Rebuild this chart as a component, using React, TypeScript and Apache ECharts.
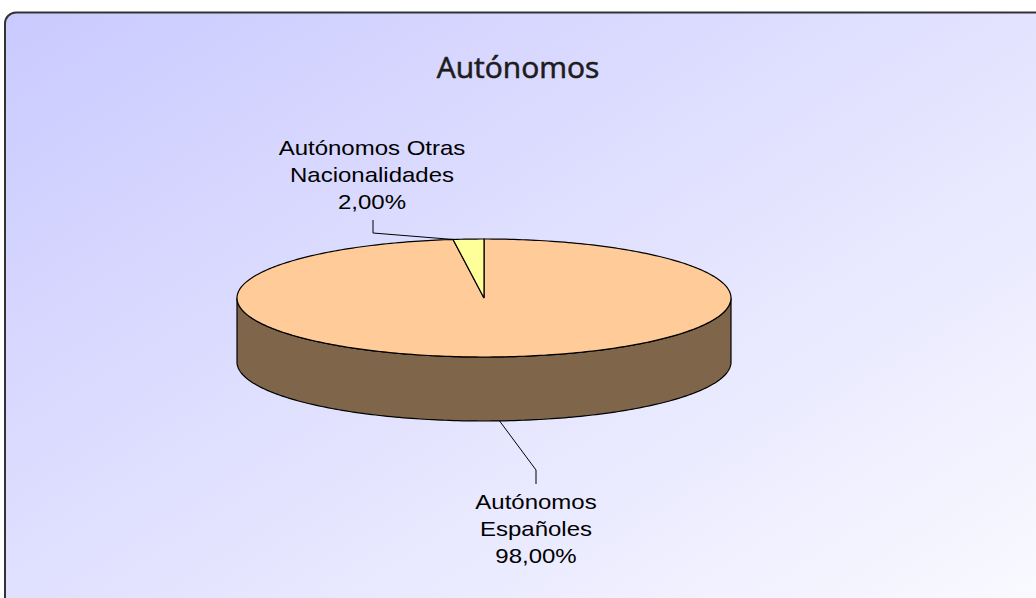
import { useEffect, useRef } from "react";
import * as echarts from "echarts";

const chartTitle = "Autónomos";
const categories = ["Autónomos Españoles", "Autónomos Otras Nacionalidades"];
const shares = [98.0, 2.0];

const topColors = ["#FFCC99", "#FFFF99"];
const sideColors = ["#7F654A", "#80804D"];

const PIE = { cx: 484, cy: 298, rx: 247, ry: 59, depth: 64 };
const LABEL_LAYOUT = [
  { x: 536, y: 529, wordsFirstLine: 1, anchorFrac: 0.5, bend: [536, 470], end: [536, 484] },
  { x: 372, y: 175, wordsFirstLine: 2, anchorFrac: 0, bend: [373, 233], end: [373, 220] },
];

const total = shares.reduce((a, b) => a + b, 0);
const starts: number[] = [];
{
  let acc = 0;
  shares.forEach((v) => {
    starts.push((acc / total) * 360);
    acc += v;
  });
}

function pt(deg: number, dy = 0): number[] {
  const r = (deg * Math.PI) / 180;
  return [PIE.cx + PIE.rx * Math.sin(r), PIE.cy - PIE.ry * Math.cos(r) + dy];
}
function arc(a: number, b: number, dy = 0): number[][] {
  const n = Math.max(2, Math.ceil(Math.abs(b - a)) + 1);
  const out: number[][] = [];
  for (let i = 0; i < n; i++) out.push(pt(a + ((b - a) * i) / (n - 1), dy));
  return out;
}
function fmt(v: number) {
  return v.toFixed(2).replace(".", ",") + "%";
}

export default function App() {
  const ref = useRef<HTMLDivElement>(null);
  useEffect(() => {
    if (!ref.current) return;
    const chart = echarts.init(ref.current, undefined, { renderer: "svg" });
    chart.setOption({
      animation: false,
      title: {
        text: chartTitle,
        left: "center",
        top: 46,
        textStyle: {
          fontFamily: "Open Sans",
          fontSize: 30,
          fontWeight: "normal",
          color: "#1E1B1C",
          textBorderColor: "#1E1B1C",
          textBorderWidth: 0.6,
        },
      },
      graphic: [
        {
          type: "rect",
          z: -10,
          silent: true,
          shape: { x: 5, y: 12.5, width: 1100, height: 700, r: 11 },
          style: {
            fill: new echarts.graphic.LinearGradient(0, 0, 1, 1, [
              { offset: 0, color: "#CACAFF" },
              { offset: 1, color: "#FFFFFF" },
            ]),
            stroke: "#333333",
            lineWidth: 2,
          },
        },
      ],
      series: [
        {
          type: "custom",
          coordinateSystem: "none",
          silent: true,
          data: shares.map((v, i) => ({ value: v, name: categories[i] })),
          renderItem: (params: any, api: any) => {
            const i = params.dataIndex;
            const v = api.value(0);
            const s = starts[i];
            const e = s + (v / total) * 360;
            const children: any[] = [];
            const a = Math.max(s, 90);
            const b = Math.min(e, 270);
            if (b > a) {
              children.push({
                type: "polygon",
                shape: { points: [...arc(a, b), ...arc(b, a, PIE.depth)] },
                style: { fill: sideColors[i], stroke: "#000", lineWidth: 1.2 },
              });
            }
            children.push({
              type: "polygon",
              shape: { points: [[PIE.cx, PIE.cy], ...arc(s, e)] },
              style: { fill: topColors[i], stroke: "#000", lineWidth: 1.2 },
            });
            const L = LABEL_LAYOUT[i];
            const ang = s + (e - s) * L.anchorFrac;
            const front = ang > 90 && ang < 270;
            const anchor = pt(ang, front ? PIE.depth : 0);
            children.push({
              type: "polyline",
              shape: { points: [anchor, L.bend, L.end] },
              style: { stroke: "#000", lineWidth: 1, fill: "none" },
            });
            const words = categories[i].split(" ");
            const text =
              words.slice(0, L.wordsFirstLine).join(" ") +
              "\n" +
              words.slice(L.wordsFirstLine).join(" ") +
              "\n" +
              fmt(v);
            children.push({
              type: "text",
              x: L.x,
              y: L.y,
              scaleX: 1.2,
              style: {
                text,
                x: 0,
                y: 0,
                fill: "#000",
                fontFamily: "Liberation Sans",
                fontSize: 20,
                lineHeight: 27,
                align: "center",
                verticalAlign: "middle",
              },
            });
            return { type: "group", children };
          },
        },
      ],
    });
    return () => chart.dispose();
  }, []);
  return (
    <div
      ref={ref}
      style={{ position: "absolute", left: 0, top: 0, width: 1036, height: 598 }}
    />
  );
}
